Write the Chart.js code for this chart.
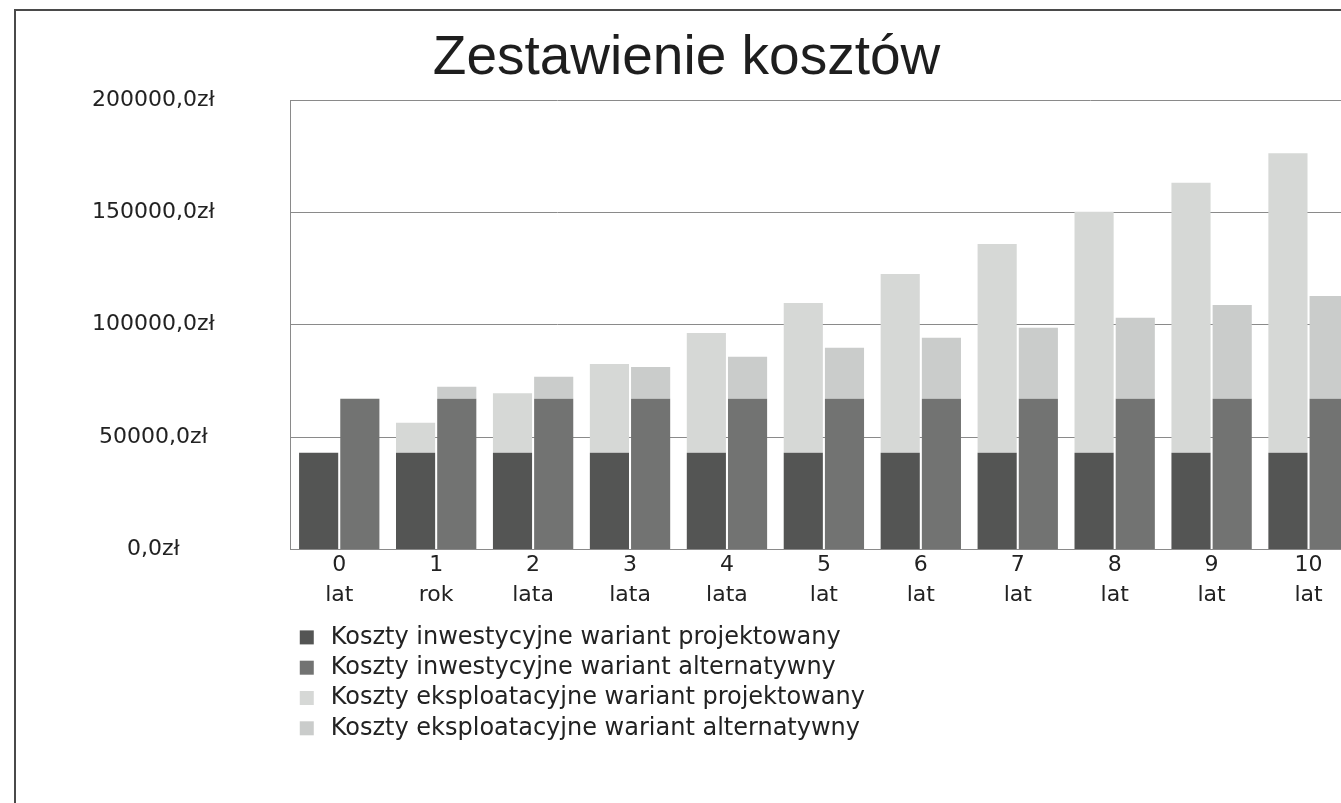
<!DOCTYPE html>
<html>
<head>
<meta charset="utf-8">
<script src="https://cdn.jsdelivr.net/npm/chart.js@4"></script>
<style>
  html, body { margin: 0; padding: 0; background: #fff; overflow: hidden; }
  #wrap { position: relative; width: 1341px; height: 803px; overflow: hidden; }
  #frame { position: absolute; left: 14px; top: 9px; width: 1400px; height: 900px; border: 2px solid #4a4a4a; pointer-events: none; }
  canvas { position: absolute; left: 0; top: 0; }
</style>
</head>
<body>
<div id="wrap">
  <canvas id="chart" width="1365" height="803"></canvas>
  <div id="frame"></div>
</div>
<script>
// categories (years)
const years = [['0', 'lat'], ['1', 'rok'], ['2', 'lata'], ['3', 'lata'], ['4', 'lata'], ['5', 'lat'],
  ['6', 'lat'], ['7', 'lat'], ['8', 'lat'], ['9', 'lat'], ['10', 'lat']];

// values in zł
const invProj = [43000, 43000, 43000, 43000, 43000, 43000, 43000, 43000, 43000, 43000, 43000];
const invAlt = [67000, 67000, 67000, 67000, 67000, 67000, 67000, 67000, 67000, 67000, 67000];
const explProj = [0, 13400, 26500, 39500, 53300, 66700, 79600, 92900, 107300, 120200, 133300];
const explAlt = [0, 5400, 9800, 14200, 18700, 22700, 27200, 31600, 36100, 41800, 45800];

const seriesNames = [
  'Koszty inwestycyjne wariant projektowany',
  'Koszty inwestycyjne wariant alternatywny',
  'Koszty eksploatacyjne wariant projektowany',
  'Koszty eksploatacyjne wariant alternatywny'
];
const seriesColors = ['#545554', '#727372', '#d6d8d6', '#cacccb'];

const yTicks = [0, 50000, 100000, 150000, 200000];

const textFont = 'DejaVu Sans';

// legend drawn as a vertical list under the axis
const listLegend = {
  id: 'listLegend',
  afterDraw(chart) {
    const ctx = chart.ctx;
    const area = chart.chartArea;
    ctx.save();
    ctx.font = '24px "' + textFont + '"';
    ctx.textBaseline = 'middle';
    ctx.textAlign = 'left';
    chart.data.datasets.forEach((ds, i) => {
      const y = area.bottom + 88 + i * 30.3;
      ctx.fillStyle = ds.backgroundColor;
      ctx.fillRect(area.left + 9, y - 7, 14, 14);
      ctx.fillStyle = '#222';
      ctx.fillText(ds.label, area.left + 40, y);
    });
    ctx.restore();
  }
};

const stacks = ['proj', 'alt', 'proj', 'alt'];
const values = [invProj, invAlt, explProj, explAlt];

new Chart(document.getElementById('chart'), {
  type: 'bar',
  data: {
    labels: years,
    datasets: values.map((v, i) => ({
      label: seriesNames[i],
      data: v,
      stack: stacks[i],
      backgroundColor: seriesColors[i],
      borderWidth: 0,
      barPercentage: 0.95,
      categoryPercentage: 0.85
    }))
  },
  options: {
    responsive: false,
    animation: false,
    devicePixelRatio: 1,
    layout: { padding: { left: 16, right: 8, top: 0, bottom: 192 } },
    plugins: {
      legend: { display: false },
      tooltip: { enabled: false },
      title: {
        display: true,
        text: 'Zestawienie kosztów',
        color: '#1e1e1e',
        font: { family: 'Liberation Sans', size: 55, weight: 'normal' },
        padding: { top: 26, bottom: 8 }
      }
    },
    scales: {
      x: {
        stacked: true,
        grid: { display: false, drawTicks: false },
        border: { display: true, color: '#8a8a8a' },
        ticks: {
          color: '#222',
          padding: 0,
          maxRotation: 0,
          font: { family: textFont, size: 22, lineHeight: 1.4 }
        }
      },
      y: {
        stacked: true,
        min: 0,
        max: 200000,
        afterBuildTicks: (scale) => { scale.ticks = yTicks.map(v => ({ value: v })); },
        grid: { color: '#8a8a8a', drawTicks: false },
        border: { display: true, color: '#8a8a8a' },
        ticks: {
          color: '#222',
          padding: 76,
          crossAlign: 'center',
          font: { family: textFont, size: 22 },
          callback: (v) => v + ',0zł'
        }
      }
    }
  },
  plugins: [listLegend]
});
</script>
</body>
</html>
